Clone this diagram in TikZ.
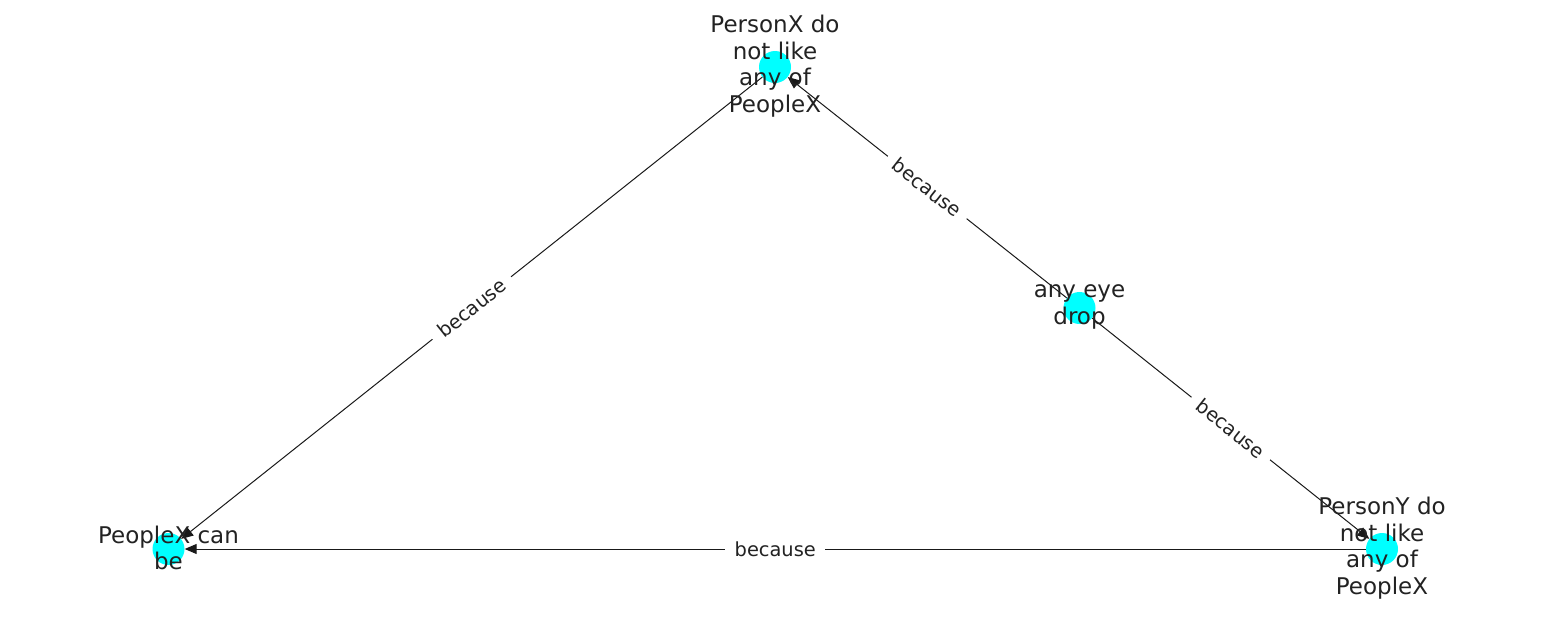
\documentclass[tikz,border=0pt]{standalone}
\usepackage{fontspec}
\setmainfont{DejaVu Sans}
\usetikzlibrary{arrows.meta}
\definecolor{nodecyan}{HTML}{00FFFF}
\definecolor{txt}{HTML}{222222}
\tikzset{
  dot/.style={circle, fill=nodecyan, draw=none, minimum size=32pt, inner sep=0pt},
  lbl/.style={align=center, text=txt, inner sep=0pt, font=\fontsize{23}{26.5}\selectfont},
  edge/.style={draw=black!90, line width=1pt, -{Triangle[length=12pt,width=10pt]}},
  elbl/.style={midway, sloped, fill=white, text=txt, inner xsep=9.5pt, inner ysep=3pt,
    font=\fontsize{19.4}{23}\selectfont}
}
\begin{document}
\begin{tikzpicture}[x=1pt,y=-1pt]
\useasboundingbox (0,0) rectangle (1550,616);
% nodes (circles)
\node[dot] (px) at (775,67) {};
\node[dot] (eye) at (1079.5,308) {};
\node[dot] (py) at (1382,549) {};
\node[dot] (pc) at (168.5,549) {};
% edges
\draw[edge] (px) -- (pc) node[elbl] {because};
\draw[edge] (eye) -- (px) node[elbl] {because};
\draw[edge] (eye) -- (py) node[elbl] {because};
\draw[edge] (py) -- (pc) node[elbl] {because};
% labels
\node[lbl] (tpx) at (775,66) {PersonX do\\not like\\any of\\PeopleX};
\node[lbl] (teye) at (1079.5,307) {any eye\\drop};
\node[lbl] (tpy) at (1382,548) {PersonY do\\not like\\any of\\PeopleX};
\node[lbl] (tpc) at (168.5,548) {PeopleX can\\be};
\end{tikzpicture}
\end{document}
